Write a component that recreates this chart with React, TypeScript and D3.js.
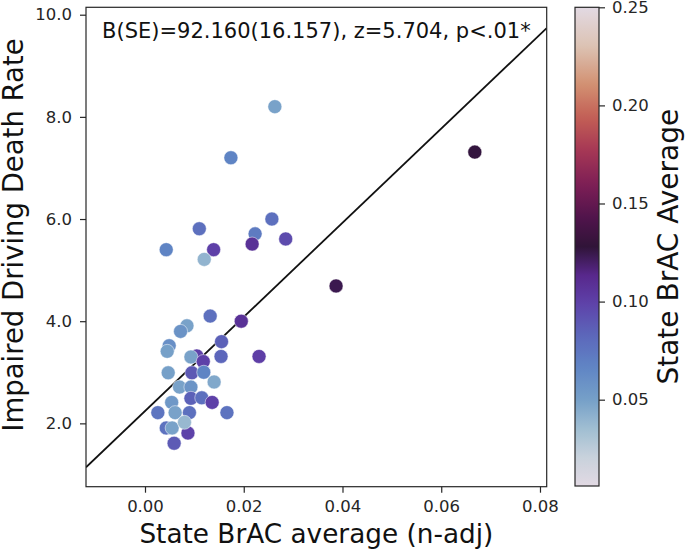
import { useRef, useEffect } from "react"
import * as d3 from "d3"

// state-level points: BrAC average (n-adj), impaired driving death rate, state BrAC average (colour)
const brac = [
  0.0263, 0.0174, 0.0257, 0.011, 0.0223, 0.0285, 0.0043, 0.0139, 0.0217, 0.012,
  0.0387, 0.0668, 0.0132, 0.0195, 0.0085, 0.0072, 0.0155, 0.0049, 0.0045, 0.0105,
  0.0093, 0.0154, 0.0231, 0.0118, 0.0047, 0.0095, 0.0119, 0.014, 0.007, 0.0093,
  0.0093, 0.0115, 0.0136, 0.0054, 0.0026, 0.0061, 0.009, 0.0166, 0.0043, 0.0055,
  0.0087, 0.008, 0.0059,
]
const deathRate = [
  8.2, 7.2, 6.0, 5.81, 5.71, 5.61, 5.4, 5.4, 5.51, 5.21,
  4.69, 7.31, 4.1, 4.0, 3.91, 3.8, 3.6, 3.52, 3.41, 3.32,
  3.3, 3.31, 3.31, 3.21, 2.99, 2.99, 3.0, 2.81, 2.71, 2.71,
  2.49, 2.5, 2.41, 2.41, 2.21, 2.21, 2.21, 2.21, 1.91, 1.91,
  1.81, 2.02, 1.61,
]
const stateAvg = [
  0.049, 0.067, 0.078, 0.078, 0.072, 0.095, 0.067, 0.1, 0.108, 0.04,
  0.124, 0.127, 0.078, 0.108, 0.049, 0.058, 0.085, 0.06, 0.05, 0.1,
  0.049, 0.083, 0.101, 0.1, 0.05, 0.089, 0.067, 0.046, 0.049, 0.057,
  0.085, 0.078, 0.1, 0.055, 0.075, 0.049, 0.078, 0.076, 0.077, 0.049,
  0.099, 0.038, 0.088,
]

const slope = 92.16
const intercept = 2.24
const statText = "B(SE)=92.160(16.157), z=5.704, p<.01*"

const xTicks = [0, 0.02, 0.04, 0.06, 0.08]
const yTicks = [2, 4, 6, 8, 10]
const cTicks = [0.05, 0.1, 0.15, 0.2, 0.25]

// twilight-like colormap stops
const cmapPos = [0, 0.06, 0.12, 0.18, 0.25, 0.31, 0.385, 0.44, 0.5, 0.56, 0.63, 0.7, 0.77, 0.84, 0.92, 1]
const cmapCol = [
  "#e2d9e3", "#c8d2dc", "#a0bed2", "#76a0c8", "#5f84c4", "#5c69bc", "#5e40a8", "#58288c",
  "#301438", "#50144b", "#7d1e55", "#a53755", "#c35f55", "#d29173", "#dcc3b4", "#e2d9e3",
]

const FONT = "'DejaVu Sans', sans-serif"
const INK = "#262626"

export default function App() {
  const svgRef = useRef<SVGSVGElement>(null)

  useEffect(() => {
    if (!svgRef.current) return
    const svg = d3.select(svgRef.current)
    svg.selectAll("*").remove()

    const left = 86, right = 546.7, top = 7.3, bottom = 486.7
    const x = d3.scaleLinear().domain([-0.01195, 0.08136]).range([left, right])
    const y = d3.scaleLinear().domain([0.76, 10.145]).range([bottom, top])

    const cmin = 0.006, cmax = 0.25
    const cmap = d3.scaleLinear<string>().domain(cmapPos).range(cmapCol).interpolate(d3.interpolateRgb)
    const color = (v: number) => cmap((v - cmin) / (cmax - cmin))

    // clip for the plot area
    const defs = svg.append("defs")
    defs.append("clipPath").attr("id", "plot-clip")
      .append("rect").attr("x", left).attr("y", top).attr("width", right - left).attr("height", bottom - top)

    // regression line
    const xd = x.domain()
    svg.append("line")
      .attr("clip-path", "url(#plot-clip)")
      .attr("x1", x(xd[0])).attr("y1", y(intercept + slope * xd[0]))
      .attr("x2", x(xd[1])).attr("y2", y(intercept + slope * xd[1]))
      .attr("stroke", "#111").attr("stroke-width", 1.8)

    // points
    svg.append("g")
      .attr("clip-path", "url(#plot-clip)")
      .selectAll("circle")
      .data(brac.map((b, i) => ({ b, r: deathRate[i], c: stateAvg[i] })))
      .join("circle")
      .attr("cx", (d) => x(d.b))
      .attr("cy", (d) => y(d.r))
      .attr("r", 7)
      .attr("fill", (d) => color(d.c))
      .attr("stroke", "white")
      .attr("stroke-width", 0.5)

    // axes
    const xAxis = svg.append("g")
      .attr("transform", `translate(0,${bottom})`)
      .call(d3.axisBottom(x).tickValues(xTicks).tickFormat(d3.format(".2f")).tickSize(6).tickPadding(8).tickSizeOuter(0))
    const yAxis = svg.append("g")
      .attr("transform", `translate(${left},0)`)
      .call(d3.axisLeft(y).tickValues(yTicks).tickFormat(d3.format(".1f")).tickSize(6).tickPadding(8).tickSizeOuter(0))
    ;[xAxis, yAxis].forEach((a) => {
      a.select(".domain").remove()
      a.selectAll("line").attr("stroke", INK).attr("stroke-width", 1.2)
      a.selectAll("text").attr("fill", INK).attr("font-family", FONT).attr("font-size", 16.5)
    })

    // frame
    svg.append("rect")
      .attr("x", left).attr("y", top).attr("width", right - left).attr("height", bottom - top)
      .attr("fill", "none").attr("stroke", INK).attr("stroke-width", 1.2)

    // annotation
    svg.append("text")
      .attr("x", (left + right) / 2).attr("y", 37.7)
      .attr("text-anchor", "middle")
      .attr("font-family", FONT).attr("font-size", 21).attr("fill", "#111")
      .text(statText)

    // axis labels
    svg.append("text")
      .attr("x", (left + right) / 2).attr("y", 543)
      .attr("text-anchor", "middle")
      .attr("font-family", FONT).attr("font-size", 26.3).attr("fill", "#111")
      .text("State BrAC average (n-adj)")
    svg.append("text")
      .attr("transform", `translate(23,235) rotate(-90)`)
      .attr("text-anchor", "middle")
      .attr("font-family", FONT).attr("font-size", 27.5).attr("fill", "#111")
      .text("Impaired Driving Death Rate")

    // colorbar
    const cbL = 575, cbR = 599, cbT = 7.3, cbB = 486
    const grad = defs.append("linearGradient").attr("id", "cbar")
      .attr("x1", 0).attr("y1", 1).attr("x2", 0).attr("y2", 0)
    d3.range(0, 1.0001, 0.02).forEach((t) => {
      grad.append("stop").attr("offset", t).attr("stop-color", cmap(t))
    })
    svg.append("rect")
      .attr("x", cbL).attr("y", cbT).attr("width", cbR - cbL).attr("height", cbB - cbT)
      .attr("fill", "url(#cbar)").attr("stroke", INK).attr("stroke-width", 1.2)

    const cScale = d3.scaleLinear().domain([cmin, cmax]).range([cbB, cbT])
    const cAxis = svg.append("g")
      .attr("transform", `translate(${cbR},0)`)
      .call(d3.axisRight(cScale).tickValues(cTicks).tickFormat(d3.format(".2f")).tickSize(6).tickPadding(7).tickSizeOuter(0))
    cAxis.select(".domain").remove()
    cAxis.selectAll("line").attr("stroke", INK).attr("stroke-width", 1.2)
    cAxis.selectAll("text").attr("fill", INK).attr("font-family", FONT).attr("font-size", 16.5)

    svg.append("text")
      .attr("transform", `translate(678,${(cbT + cbB) / 2}) rotate(-90)`)
      .attr("text-anchor", "middle")
      .attr("font-family", FONT).attr("font-size", 28).attr("fill", "#111")
      .text("State BrAC Average")
  }, [])

  return (
    <svg
      ref={svgRef}
      width={685}
      height={550}
      style={{ position: "absolute", left: 0, top: 0, background: "white" }}
    />
  )
}
